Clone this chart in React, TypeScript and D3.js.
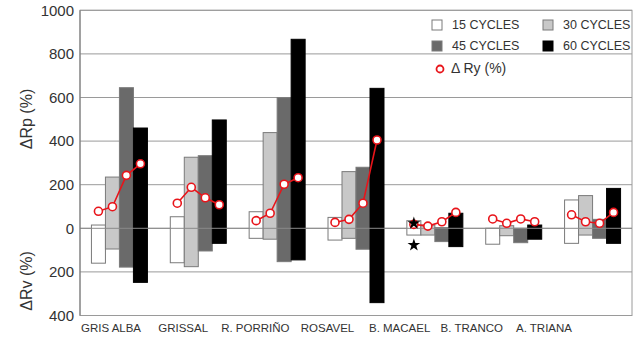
import React from "react";
import * as d3 from "d3";

const categories = ["GRIS ALBA", "GRISSAL", "R. PORRIÑO", "ROSAVEL", "B. MACAEL", "B. TRANCO", "A. TRIANA"];
const seriesNames = ["15 CYCLES", "30 CYCLES", "45 CYCLES", "60 CYCLES"];
// ΔRp (%) — positive part of each bar
const rp15 = [15, 53, 76, 50, 35, 0, 130];
const rp30 = [235, 326, 439, 260, 15, 12, 150];
const rp45 = [645, 333, 599, 280, 3, 0, 41];
const rp60 = [460, 497, 867, 642, 69, 15, 183];
// ΔRv (%) — downward part of each bar
const rv15 = [160, 158, 46, 54, 31, 73, 69];
const rv30 = [95, 176, 50, 46, 31, 34, 31];
const rv45 = [178, 104, 153, 96, 61, 66, 46];
const rv60 = [248, 69, 145, 341, 84, 50, 69];
// ΔRy (%) per cycle count
const ry = [
  [78, 99, 243, 296],
  [115, 188, 140, 108],
  [35, 69, 202, 232],
  [27, 41, 115, 405],
  [18, 10, 30, 73],
  [43, 23, 43, 30],
  [62, 30, 23, 73],
];
// stars on B. MACAEL (15 cycles)
const starValues = [23, -77];
const yTicks = [-400, -200, 0, 200, 400, 600, 800, 1000];

const W = 640, H = 337;
const left = 80, right = 632, top = 10.3, bottom = 315.5;
const colors = ["#ffffff", "#c8c8c8", "#6a6a6a", "#000000"];
const font = "'Liberation Sans', Arial, sans-serif";

export default function App() {
  const x = d3.scaleBand<string>().domain(categories).range([left, right]).paddingInner(0.29).paddingOuter(0.145);
  const xs = d3.scaleBand<string>().domain(seriesNames).range([0, x.bandwidth()]);
  const xl = d3.scalePoint<string>().domain(categories).range([111, 544]);
  const y = d3.scaleLinear().domain([-400, 1000]).range([bottom, top]);
  const rps = [rp15, rp30, rp45, rp60];
  const rvs = [rv15, rv30, rv45, rv60];
  const star = d3.symbol().type(d3.symbolStar).size(50)();

  return (
    <svg width={W} height={H} style={{ position: "absolute", left: 0, top: 0, background: "#fff" }}>
      {yTicks.map((t) => (
        <line key={t} x1={left} x2={right} y1={y(t)} y2={y(t)} stroke="#9a9a9a" strokeWidth={1} />
      ))}
      <rect x={left} y={top} width={right - left} height={bottom - top} fill="none" stroke="#9a9a9a" strokeWidth={1} />
      {categories.map((c, ci) =>
        seriesNames.map((s, si) => {
          const x0 = (x(c) as number) + (xs(s) as number);
          const y1 = y(rps[si][ci]);
          const y2 = y(-rvs[si][ci]);
          return (
            <rect key={c + s} x={x0} y={y1} width={xs.bandwidth()} height={y2 - y1}
              fill={colors[si]} stroke={si === 3 ? "#000" : "#7a7a7a"} strokeWidth={1} />
          );
        })
      )}
      <line x1={left} x2={right} y1={y(0)} y2={y(0)} stroke="#8a8a8a" strokeWidth={1} />
      {categories.map((c, ci) => {
        const px = (i: number) => (x(c) as number) + (xs(seriesNames[i]) as number) + xs.bandwidth() / 2;
        const l = d3.line<number>().x((_, i) => px(i)).y((d) => y(d));
        return (
          <g key={"ry" + c}>
            <path d={l(ry[ci]) as string} fill="none" stroke="#e8141a" strokeWidth={1.6} />
            {ry[ci].map((v, i) => (
              <circle key={i} cx={px(i)} cy={y(v)} r={4} fill="#fff" stroke="#e8141a" strokeWidth={1.6} />
            ))}
          </g>
        );
      })}
      {starValues.map((v, i) => (
        <path key={"s" + i} d={star as string}
          transform={`translate(${(x("B. MACAEL") as number) + (xs("15 CYCLES") as number) + xs.bandwidth() / 2},${y(v)})`}
          fill="#000" />
      ))}
      <line x1={left} x2={left} y1={top} y2={bottom} stroke="#777" strokeWidth={1} />
      {yTicks.map((t) => (
        <text key={"t" + t} x={74} y={y(t)} dy="0.35em" textAnchor="end" fontFamily={font} fontSize={15} fill="#333">
          {Math.abs(t)}
        </text>
      ))}
      <text transform={`translate(32,119) rotate(-90)`} textAnchor="middle" fontFamily={font} fontSize={16} fill="#333">
        ΔRp (%)
      </text>
      <text transform={`translate(32,281) rotate(-90)`} textAnchor="middle" fontFamily={font} fontSize={16} fill="#333">
        ΔRv (%)
      </text>
      {categories.map((c) => (
        <text key={"l" + c} x={xl(c)} y={332} textAnchor="middle" fontFamily={font} fontSize={11.5} fill="#333">
          {c}
        </text>
      ))}
      {seriesNames.map((s, i) => {
        const lx = i % 2 === 0 ? 432 : 543;
        const ly = i < 2 ? 25 : 46;
        return (
          <g key={"lg" + s}>
            <rect x={lx} y={ly - 5} width={10} height={10} fill={colors[i]} stroke={i === 3 ? "#000" : "#7a7a7a"} />
            <text x={lx + 20} y={ly} dy="0.35em" fontFamily={font} fontSize={12.5} fill="#333">{s}</text>
          </g>
        );
      })}
      <circle cx={440} cy={69} r={3.5} fill="#fff" stroke="#e8141a" strokeWidth={1.8} />
      <text x={451} y={68} dy="0.35em" fontFamily={font} fontSize={14} fill="#333">Δ Ry (%)</text>
    </svg>
  );
}
